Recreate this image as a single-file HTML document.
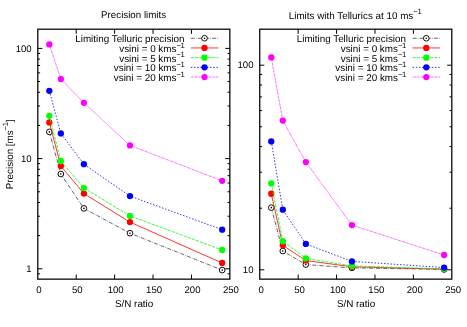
<!DOCTYPE html>
<html><head><meta charset="utf-8"><title>Precision limits</title>
<style>
html,body{margin:0;padding:0;background:#fff;}
svg{display:block;will-change:transform;font-family:"Liberation Sans",sans-serif;font-size:9.6px;}
svg text{text-rendering:geometricPrecision;font-family:"Liberation Sans",sans-serif;}
</style></head>
<body>
<svg width="467" height="327" viewBox="0 0 467 327" fill="#000">
<polyline points="49.32,131.90 60.85,174.00 83.89,208.40 129.98,233.20 222.17,270.10" fill="none" stroke="#000" stroke-width="0.6" stroke-dasharray="4.0,1.2,0.6,1.3"/>
<circle cx="49.32" cy="131.90" r="2.85" fill="#fff" stroke="#000" stroke-width="0.95"/>
<circle cx="49.32" cy="131.90" r="0.8" fill="#000"/>
<circle cx="60.85" cy="174.00" r="2.85" fill="#fff" stroke="#000" stroke-width="0.95"/>
<circle cx="60.85" cy="174.00" r="0.8" fill="#000"/>
<circle cx="83.89" cy="208.40" r="2.85" fill="#fff" stroke="#000" stroke-width="0.95"/>
<circle cx="83.89" cy="208.40" r="0.8" fill="#000"/>
<circle cx="129.98" cy="233.20" r="2.85" fill="#fff" stroke="#000" stroke-width="0.95"/>
<circle cx="129.98" cy="233.20" r="0.8" fill="#000"/>
<circle cx="222.17" cy="270.10" r="2.85" fill="#fff" stroke="#000" stroke-width="0.95"/>
<circle cx="222.17" cy="270.10" r="0.8" fill="#000"/>
<polyline points="49.32,122.40 60.85,166.00 83.89,193.60 129.98,222.10 222.17,263.00" fill="none" stroke="#ff0000" stroke-width="0.8"/>
<circle cx="49.32" cy="122.40" r="3.15" fill="#ff0000"/>
<circle cx="60.85" cy="166.00" r="3.15" fill="#ff0000"/>
<circle cx="83.89" cy="193.60" r="3.15" fill="#ff0000"/>
<circle cx="129.98" cy="222.10" r="3.15" fill="#ff0000"/>
<circle cx="222.17" cy="263.00" r="3.15" fill="#ff0000"/>
<polyline points="49.32,115.80 60.85,161.00 83.89,188.10 129.98,215.90 222.17,250.00" fill="none" stroke="#00ff00" stroke-width="0.8" stroke-dasharray="3.1,1.2"/>
<circle cx="49.32" cy="115.80" r="3.15" fill="#00ff00"/>
<circle cx="60.85" cy="161.00" r="3.15" fill="#00ff00"/>
<circle cx="83.89" cy="188.10" r="3.15" fill="#00ff00"/>
<circle cx="129.98" cy="215.90" r="3.15" fill="#00ff00"/>
<circle cx="222.17" cy="250.00" r="3.15" fill="#00ff00"/>
<polyline points="49.32,90.80 60.85,133.40 83.89,164.20 129.98,196.10 222.17,229.70" fill="none" stroke="#0000ff" stroke-width="0.8" stroke-dasharray="1.5,1.7"/>
<circle cx="49.32" cy="90.80" r="3.15" fill="#0000ff"/>
<circle cx="60.85" cy="133.40" r="3.15" fill="#0000ff"/>
<circle cx="83.89" cy="164.20" r="3.15" fill="#0000ff"/>
<circle cx="129.98" cy="196.10" r="3.15" fill="#0000ff"/>
<circle cx="222.17" cy="229.70" r="3.15" fill="#0000ff"/>
<polyline points="49.32,44.40 60.85,79.10 83.89,102.80 129.98,145.40 222.17,180.80" fill="none" stroke="#ff00ff" stroke-width="0.85" stroke-dasharray="0.75,0.65"/>
<circle cx="49.32" cy="44.40" r="3.15" fill="#ff00ff"/>
<circle cx="60.85" cy="79.10" r="3.15" fill="#ff00ff"/>
<circle cx="83.89" cy="102.80" r="3.15" fill="#ff00ff"/>
<circle cx="129.98" cy="145.40" r="3.15" fill="#ff00ff"/>
<circle cx="222.17" cy="180.80" r="3.15" fill="#ff00ff"/>
<rect x="37.8" y="29.2" width="192.05" height="249.95" fill="none" stroke="#000" stroke-width="1.25"/>
<path d="M76.21 279.15v-4.6M76.21 29.2v4.6" stroke="#000" stroke-width="1"/>
<path d="M114.62 279.15v-4.6M114.62 29.2v4.6" stroke="#000" stroke-width="1"/>
<path d="M153.03 279.15v-4.6M153.03 29.2v4.6" stroke="#000" stroke-width="1"/>
<path d="M191.44 279.15v-4.6M191.44 29.2v4.6" stroke="#000" stroke-width="1"/>
<path d="M37.8 268.80h4.6M229.85 268.80h-4.6" stroke="#000" stroke-width="1"/>
<path d="M37.8 158.60h4.6M229.85 158.60h-4.6" stroke="#000" stroke-width="1"/>
<path d="M37.8 48.40h4.6M229.85 48.40h-4.6" stroke="#000" stroke-width="1"/>
<path d="M37.8 273.84h2.3M229.85 273.84h-2.3" stroke="#000" stroke-width="1"/>
<path d="M37.8 235.63h2.3M229.85 235.63h-2.3" stroke="#000" stroke-width="1"/>
<path d="M37.8 216.22h2.3M229.85 216.22h-2.3" stroke="#000" stroke-width="1"/>
<path d="M37.8 202.45h2.3M229.85 202.45h-2.3" stroke="#000" stroke-width="1"/>
<path d="M37.8 191.77h2.3M229.85 191.77h-2.3" stroke="#000" stroke-width="1"/>
<path d="M37.8 183.05h2.3M229.85 183.05h-2.3" stroke="#000" stroke-width="1"/>
<path d="M37.8 175.67h2.3M229.85 175.67h-2.3" stroke="#000" stroke-width="1"/>
<path d="M37.8 169.28h2.3M229.85 169.28h-2.3" stroke="#000" stroke-width="1"/>
<path d="M37.8 163.64h2.3M229.85 163.64h-2.3" stroke="#000" stroke-width="1"/>
<path d="M37.8 125.43h2.3M229.85 125.43h-2.3" stroke="#000" stroke-width="1"/>
<path d="M37.8 106.02h2.3M229.85 106.02h-2.3" stroke="#000" stroke-width="1"/>
<path d="M37.8 92.25h2.3M229.85 92.25h-2.3" stroke="#000" stroke-width="1"/>
<path d="M37.8 81.57h2.3M229.85 81.57h-2.3" stroke="#000" stroke-width="1"/>
<path d="M37.8 72.85h2.3M229.85 72.85h-2.3" stroke="#000" stroke-width="1"/>
<path d="M37.8 65.47h2.3M229.85 65.47h-2.3" stroke="#000" stroke-width="1"/>
<path d="M37.8 59.08h2.3M229.85 59.08h-2.3" stroke="#000" stroke-width="1"/>
<path d="M37.8 53.44h2.3M229.85 53.44h-2.3" stroke="#000" stroke-width="1"/>
<text x="38.90" y="292.7" text-anchor="middle">0</text>
<text x="77.31" y="292.7" text-anchor="middle">50</text>
<text x="115.72" y="292.7" text-anchor="middle">100</text>
<text x="154.13" y="292.7" text-anchor="middle">150</text>
<text x="192.54" y="292.7" text-anchor="middle">200</text>
<text x="230.95" y="292.7" text-anchor="middle">250</text>
<text x="134.12" y="307.2" text-anchor="middle" font-size="9.85">S/N ratio</text>
<text x="31.7" y="272.30" text-anchor="end">1</text>
<text x="31.7" y="162.10" text-anchor="end">10</text>
<text x="31.7" y="51.90" text-anchor="end">100</text>
<text x="184.50" y="42.20" text-anchor="end" font-size="9.85">Limiting Telluric precision</text>
<path d="M190.80 38.25H218.40" fill="none" stroke="#000" stroke-width="0.6" stroke-dasharray="4.0,1.2,0.6,1.3"/>
<circle cx="204.50" cy="38.25" r="2.85" fill="#fff" stroke="#000" stroke-width="0.95"/>
<circle cx="204.50" cy="38.25" r="0.8" fill="#000"/>
<text x="184.50" y="51.95" text-anchor="end" font-size="9.85">vsini = 0 kms<tspan dy="-4.4" font-size="7.7" letter-spacing="-0.35">−1</tspan></text>
<path d="M190.80 47.95H218.40" fill="none" stroke="#ff0000" stroke-width="0.8"/>
<circle cx="204.50" cy="47.95" r="3.15" fill="#ff0000"/>
<text x="184.50" y="61.70" text-anchor="end" font-size="9.85">vsini = 5 kms<tspan dy="-4.4" font-size="7.7" letter-spacing="-0.35">−1</tspan></text>
<path d="M190.80 57.65H218.40" fill="none" stroke="#00ff00" stroke-width="0.8" stroke-dasharray="3.1,1.2"/>
<circle cx="204.50" cy="57.65" r="3.15" fill="#00ff00"/>
<text x="184.50" y="71.45" text-anchor="end" font-size="9.85">vsini = 10 kms<tspan dy="-4.4" font-size="7.7" letter-spacing="-0.35">−1</tspan></text>
<path d="M190.80 67.35H218.40" fill="none" stroke="#0000ff" stroke-width="0.8" stroke-dasharray="1.5,1.7"/>
<circle cx="204.50" cy="67.35" r="3.15" fill="#0000ff"/>
<text x="184.50" y="81.20" text-anchor="end" font-size="9.85">vsini = 20 kms<tspan dy="-4.4" font-size="7.7" letter-spacing="-0.35">−1</tspan></text>
<path d="M190.80 77.05H218.40" fill="none" stroke="#ff00ff" stroke-width="0.85" stroke-dasharray="0.75,0.65"/>
<circle cx="204.50" cy="77.05" r="3.15" fill="#ff00ff"/>
<text x="133.62" y="17.75" text-anchor="middle" font-size="9.75">Precision limits</text>
<text transform="translate(12.6,154.4) rotate(-90)" text-anchor="middle" font-size="9.85" textLength="69.6">Precision [ms<tspan dy="-4.4" font-size="7.7" letter-spacing="-0.35">−1</tspan><tspan dy="4.4">]</tspan></text>
<polyline points="271.27,207.64 282.80,251.04 305.84,264.58 351.93,267.88 444.12,269.38" fill="none" stroke="#000" stroke-width="0.6" stroke-dasharray="4.0,1.2,0.6,1.3"/>
<circle cx="271.27" cy="207.64" r="2.85" fill="#fff" stroke="#000" stroke-width="0.95"/>
<circle cx="271.27" cy="207.64" r="0.8" fill="#000"/>
<circle cx="282.80" cy="251.04" r="2.85" fill="#fff" stroke="#000" stroke-width="0.95"/>
<circle cx="282.80" cy="251.04" r="0.8" fill="#000"/>
<circle cx="305.84" cy="264.58" r="2.85" fill="#fff" stroke="#000" stroke-width="0.95"/>
<circle cx="305.84" cy="264.58" r="0.8" fill="#000"/>
<circle cx="351.93" cy="267.88" r="2.85" fill="#fff" stroke="#000" stroke-width="0.95"/>
<circle cx="351.93" cy="267.88" r="0.8" fill="#000"/>
<circle cx="444.12" cy="269.38" r="2.85" fill="#fff" stroke="#000" stroke-width="0.95"/>
<circle cx="444.12" cy="269.38" r="0.8" fill="#000"/>
<polyline points="271.27,193.74 282.80,245.35 305.84,260.54 351.93,266.78 444.12,269.24" fill="none" stroke="#ff0000" stroke-width="0.8"/>
<circle cx="271.27" cy="193.74" r="3.15" fill="#ff0000"/>
<circle cx="282.80" cy="245.35" r="3.15" fill="#ff0000"/>
<circle cx="305.84" cy="260.54" r="3.15" fill="#ff0000"/>
<circle cx="351.93" cy="266.78" r="3.15" fill="#ff0000"/>
<circle cx="444.12" cy="269.24" r="3.15" fill="#ff0000"/>
<polyline points="271.27,183.47 282.80,241.18 305.84,258.44 351.93,265.92 444.12,268.84" fill="none" stroke="#00ff00" stroke-width="0.8" stroke-dasharray="3.1,1.2"/>
<circle cx="271.27" cy="183.47" r="3.15" fill="#00ff00"/>
<circle cx="282.80" cy="241.18" r="3.15" fill="#00ff00"/>
<circle cx="305.84" cy="258.44" r="3.15" fill="#00ff00"/>
<circle cx="351.93" cy="265.92" r="3.15" fill="#00ff00"/>
<circle cx="444.12" cy="268.84" r="3.15" fill="#00ff00"/>
<polyline points="271.27,141.38 282.80,209.72 305.84,243.90 351.93,261.38 444.12,267.58" fill="none" stroke="#0000ff" stroke-width="0.8" stroke-dasharray="1.5,1.7"/>
<circle cx="271.27" cy="141.38" r="3.15" fill="#0000ff"/>
<circle cx="282.80" cy="209.72" r="3.15" fill="#0000ff"/>
<circle cx="305.84" cy="243.90" r="3.15" fill="#0000ff"/>
<circle cx="351.93" cy="261.38" r="3.15" fill="#0000ff"/>
<circle cx="444.12" cy="267.58" r="3.15" fill="#0000ff"/>
<polyline points="271.27,57.40 282.80,120.62 305.84,162.08 351.93,225.08 444.12,255.00" fill="none" stroke="#ff00ff" stroke-width="0.85" stroke-dasharray="0.75,0.65"/>
<circle cx="271.27" cy="57.40" r="3.15" fill="#ff00ff"/>
<circle cx="282.80" cy="120.62" r="3.15" fill="#ff00ff"/>
<circle cx="305.84" cy="162.08" r="3.15" fill="#ff00ff"/>
<circle cx="351.93" cy="225.08" r="3.15" fill="#ff00ff"/>
<circle cx="444.12" cy="255.00" r="3.15" fill="#ff00ff"/>
<rect x="259.75" y="29.2" width="192.05" height="249.95" fill="none" stroke="#000" stroke-width="1.25"/>
<path d="M298.16 279.15v-4.6M298.16 29.2v4.6" stroke="#000" stroke-width="1"/>
<path d="M336.57 279.15v-4.6M336.57 29.2v4.6" stroke="#000" stroke-width="1"/>
<path d="M374.98 279.15v-4.6M374.98 29.2v4.6" stroke="#000" stroke-width="1"/>
<path d="M413.39 279.15v-4.6M413.39 29.2v4.6" stroke="#000" stroke-width="1"/>
<path d="M259.75 269.80h4.6M451.8 269.80h-4.6" stroke="#000" stroke-width="1"/>
<path d="M259.75 65.20h4.6M451.8 65.20h-4.6" stroke="#000" stroke-width="1"/>
<path d="M259.75 208.21h2.3M451.8 208.21h-2.3" stroke="#000" stroke-width="1"/>
<path d="M259.75 172.18h2.3M451.8 172.18h-2.3" stroke="#000" stroke-width="1"/>
<path d="M259.75 146.62h2.3M451.8 146.62h-2.3" stroke="#000" stroke-width="1"/>
<path d="M259.75 126.79h2.3M451.8 126.79h-2.3" stroke="#000" stroke-width="1"/>
<path d="M259.75 110.59h2.3M451.8 110.59h-2.3" stroke="#000" stroke-width="1"/>
<path d="M259.75 96.89h2.3M451.8 96.89h-2.3" stroke="#000" stroke-width="1"/>
<path d="M259.75 85.03h2.3M451.8 85.03h-2.3" stroke="#000" stroke-width="1"/>
<path d="M259.75 74.56h2.3M451.8 74.56h-2.3" stroke="#000" stroke-width="1"/>
<text x="261.15" y="292.7" text-anchor="middle">0</text>
<text x="299.56" y="292.7" text-anchor="middle">50</text>
<text x="337.97" y="292.7" text-anchor="middle">100</text>
<text x="376.38" y="292.7" text-anchor="middle">150</text>
<text x="414.79" y="292.7" text-anchor="middle">200</text>
<text x="453.20" y="292.7" text-anchor="middle">250</text>
<text x="356.07" y="307.2" text-anchor="middle" font-size="9.85">S/N ratio</text>
<text x="253.5" y="273.30" text-anchor="end">10</text>
<text x="253.5" y="68.30" text-anchor="end">100</text>
<text x="406.00" y="42.20" text-anchor="end" font-size="9.85">Limiting Telluric precision</text>
<path d="M412.60 38.25H440.00" fill="none" stroke="#000" stroke-width="0.6" stroke-dasharray="4.0,1.2,0.6,1.3"/>
<circle cx="426.30" cy="38.25" r="2.85" fill="#fff" stroke="#000" stroke-width="0.95"/>
<circle cx="426.30" cy="38.25" r="0.8" fill="#000"/>
<text x="406.00" y="51.95" text-anchor="end" font-size="9.85">vsini = 0 kms<tspan dy="-4.4" font-size="7.7" letter-spacing="-0.35">−1</tspan></text>
<path d="M412.60 47.95H440.00" fill="none" stroke="#ff0000" stroke-width="0.8"/>
<circle cx="426.30" cy="47.95" r="3.15" fill="#ff0000"/>
<text x="406.00" y="61.70" text-anchor="end" font-size="9.85">vsini = 5 kms<tspan dy="-4.4" font-size="7.7" letter-spacing="-0.35">−1</tspan></text>
<path d="M412.60 57.65H440.00" fill="none" stroke="#00ff00" stroke-width="0.8" stroke-dasharray="3.1,1.2"/>
<circle cx="426.30" cy="57.65" r="3.15" fill="#00ff00"/>
<text x="406.00" y="71.45" text-anchor="end" font-size="9.85">vsini = 10 kms<tspan dy="-4.4" font-size="7.7" letter-spacing="-0.35">−1</tspan></text>
<path d="M412.60 67.35H440.00" fill="none" stroke="#0000ff" stroke-width="0.8" stroke-dasharray="1.5,1.7"/>
<circle cx="426.30" cy="67.35" r="3.15" fill="#0000ff"/>
<text x="406.00" y="81.20" text-anchor="end" font-size="9.85">vsini = 20 kms<tspan dy="-4.4" font-size="7.7" letter-spacing="-0.35">−1</tspan></text>
<path d="M412.60 77.05H440.00" fill="none" stroke="#ff00ff" stroke-width="0.85" stroke-dasharray="0.75,0.65"/>
<circle cx="426.30" cy="77.05" r="3.15" fill="#ff00ff"/>
<text x="355.07" y="18.7" text-anchor="middle" font-size="9.85">Limits with Tellurics at 10 ms<tspan dy="-4.9" font-size="7.7" letter-spacing="-0.35">−1</tspan></text>
</svg>
</body></html>
